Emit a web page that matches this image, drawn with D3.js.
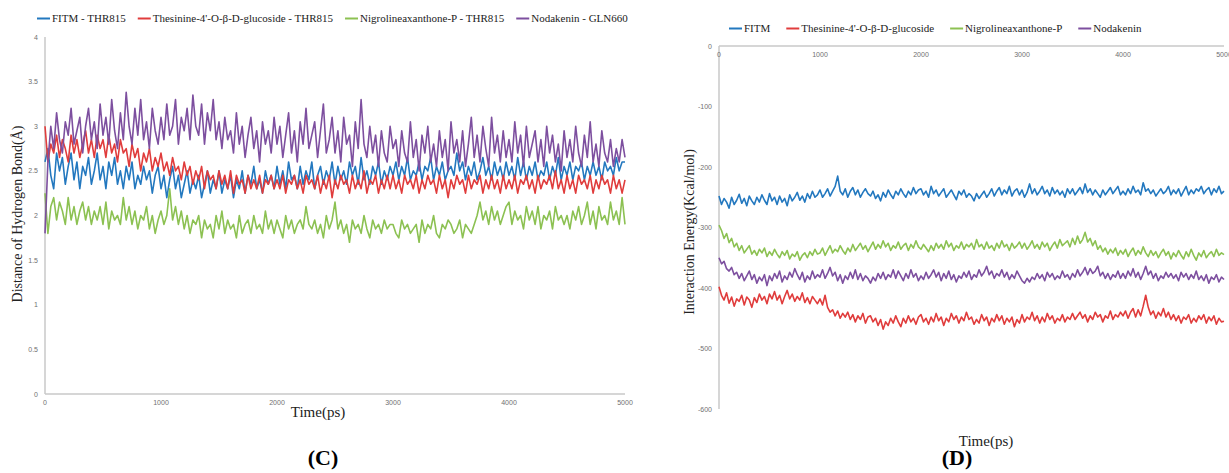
<!DOCTYPE html>
<html>
<head>
<meta charset="utf-8">
<script src="https://cdn.jsdelivr.net/npm/d3@7"></script>
<style>
  body { margin: 0; background: #fff; }
</style>
</head>
<body>
<svg id="chart"></svg>
<script>
const width = 1229, height = 473;
const SERIF = '"Liberation Serif", "Times New Roman", serif';
const SANS = '"Liberation Sans", Arial, sans-serif';

// time axis (ps), one sample every 25 ps
const times = d3.range(0, 5001, 25);

// (C) hydrogen bond distance, Å
const hbFITM = [2.6,2.75,2.45,2.3,2.7,2.5,2.65,2.35,2.55,2.7,2.4,2.6,2.3,2.55,2.45,2.65,2.35,2.5,2.7,2.4,
  2.55,2.3,2.6,2.45,2.65,2.35,2.5,2.3,2.55,2.4,2.6,2.3,2.45,2.35,2.55,2.4,2.5,2.25,2.45,2.55,
  2.3,2.45,2.2,2.4,2.55,2.3,2.45,2.2,2.35,2.5,2.25,2.4,2.3,2.45,2.2,2.35,2.5,2.25,2.4,2.3,
  2.5,2.25,2.4,2.3,2.45,2.2,2.4,2.3,2.5,2.25,2.45,2.35,2.55,2.3,2.4,2.25,2.5,2.35,2.45,2.3,
  2.55,2.35,2.5,2.3,2.6,2.4,2.45,2.3,2.55,2.35,2.5,2.4,2.6,2.3,2.45,2.55,2.35,2.5,2.4,2.6,
  2.35,2.55,2.4,2.5,2.35,2.6,2.45,2.55,2.35,2.65,2.4,2.5,2.35,2.55,2.45,2.6,2.35,2.5,2.4,2.55,
  2.45,2.6,2.4,2.55,2.45,2.65,2.4,2.5,2.45,2.6,2.4,2.55,2.5,2.65,2.4,2.55,2.45,2.6,2.4,2.5,
  2.55,2.45,2.7,2.5,2.6,2.4,2.55,2.45,2.6,2.4,2.5,2.65,2.45,2.55,2.4,2.6,2.45,2.55,2.4,2.6,
  2.45,2.55,2.4,2.65,2.45,2.6,2.4,2.55,2.45,2.6,2.4,2.5,2.45,2.6,2.4,2.55,2.45,2.65,2.4,2.55,
  2.45,2.6,2.4,2.55,2.5,2.6,2.4,2.55,2.45,2.6,2.45,2.55,2.4,2.6,2.5,2.55,2.45,2.65,2.5,2.6,
  2.6];
const hbThes = [3.0,2.6,2.8,2.7,2.9,2.65,2.85,2.75,2.6,2.9,2.7,2.85,2.65,2.8,2.95,2.7,2.85,2.65,2.9,2.75,
  2.85,2.65,2.9,2.7,2.8,2.6,2.85,2.7,2.75,2.55,2.8,2.65,2.75,2.5,2.7,2.6,2.75,2.5,2.65,2.55,
  2.7,2.5,2.6,2.45,2.65,2.5,2.55,2.4,2.6,2.45,2.55,2.35,2.5,2.4,2.55,2.3,2.5,2.4,2.45,2.3,
  2.5,2.35,2.45,2.3,2.5,2.25,2.45,2.35,2.4,2.25,2.45,2.3,2.4,2.3,2.45,2.25,2.4,2.35,2.45,2.3,
  2.4,2.3,2.45,2.25,2.4,2.35,2.45,2.3,2.4,2.25,2.45,2.35,2.4,2.3,2.45,2.25,2.4,2.3,2.45,2.2,
  2.4,2.3,2.45,2.35,2.4,2.25,2.45,2.3,2.4,2.3,2.5,2.25,2.4,2.35,2.45,2.25,2.4,2.3,2.45,2.3,
  2.45,2.3,2.4,2.25,2.45,2.35,2.4,2.3,2.45,2.25,2.4,2.3,2.45,2.35,2.4,2.25,2.45,2.3,2.4,2.2,
  2.4,2.3,2.45,2.35,2.4,2.25,2.45,2.3,2.4,2.35,2.45,2.25,2.4,2.3,2.45,2.3,2.4,2.25,2.45,2.3,
  2.4,2.3,2.45,2.25,2.4,2.35,2.45,2.3,2.4,2.25,2.45,2.3,2.4,2.35,2.45,2.3,2.5,2.3,2.4,2.25,
  2.45,2.3,2.4,2.25,2.45,2.35,2.4,2.3,2.45,2.25,2.4,2.3,2.45,2.35,2.4,2.25,2.45,2.3,2.4,2.25,
  2.4];
const hbNigro = [2.25,1.8,2.1,2.2,1.95,2.15,2.05,1.9,2.2,1.95,2.1,1.9,2.05,2.15,1.95,2.1,1.9,2.05,1.95,2.1,
  1.9,2.15,1.85,2.05,1.95,2.0,1.9,2.2,1.95,2.1,1.9,2.05,1.85,2.0,1.95,2.1,1.85,2.0,1.8,1.95,
  2.05,1.9,2.0,2.3,1.95,2.1,1.9,2.05,1.85,2.0,1.8,1.95,1.9,2.0,1.75,1.95,1.85,1.9,1.75,2.0,
  1.85,2.05,1.8,1.95,1.85,1.9,1.75,2.0,1.8,1.9,1.95,1.8,2.0,1.85,1.9,1.8,2.05,1.85,1.95,1.8,
  1.95,1.85,1.75,2.0,1.85,1.95,1.8,1.9,1.95,1.85,2.1,1.9,1.85,1.95,1.8,1.9,1.75,2.0,1.85,1.95,
  2.15,1.85,1.95,1.8,1.9,1.7,1.95,1.85,1.9,1.8,2.0,1.85,1.75,1.95,1.85,1.9,1.8,1.95,1.85,1.9,
  1.9,1.8,1.75,1.95,1.85,1.9,1.8,1.85,1.9,1.7,1.95,1.8,1.9,1.85,2.0,1.8,1.75,1.9,1.85,1.95,
  1.9,1.8,1.85,1.95,1.75,1.9,1.85,1.8,1.9,2.0,2.15,1.95,2.05,1.9,2.1,1.95,2.05,1.9,2.0,2.1,
  2.15,1.9,2.05,1.95,2.0,1.85,2.1,1.95,2.05,1.9,2.1,1.85,2.0,1.95,2.05,1.85,2.1,1.95,2.0,1.9,
  2.0,1.85,2.05,1.95,2.1,1.9,2.0,2.15,1.9,2.05,1.85,2.1,1.95,2.0,1.9,2.15,1.95,2.05,1.9,2.2,
  1.9];
const hbNoda = [1.8,2.6,3.0,2.75,3.15,2.85,2.7,3.05,2.9,3.2,2.8,2.95,3.1,2.7,3.0,3.2,2.85,3.05,2.75,3.25,
  2.9,3.1,2.8,3.3,2.95,2.75,3.15,2.85,3.38,3.0,2.8,3.2,2.9,3.3,2.85,3.05,2.75,3.2,2.95,2.8,
  3.1,2.85,3.25,2.9,3.0,3.3,2.8,3.1,2.95,3.2,2.85,3.35,3.0,2.9,3.25,2.8,3.15,2.95,3.3,2.85,
  3.05,2.75,3.1,2.85,2.95,2.7,3.15,2.8,3.0,2.65,2.9,3.1,2.75,2.95,2.6,3.05,2.8,2.95,2.7,3.1,
  2.8,3.0,2.65,2.9,3.15,2.7,2.95,2.6,3.05,2.8,3.2,2.75,2.9,3.05,2.65,2.95,3.25,2.7,2.85,3.1,
  2.7,2.95,2.6,3.1,2.8,2.9,2.55,3.05,2.75,3.3,2.8,2.65,3.0,2.7,2.9,2.55,2.95,2.7,2.6,3.0,
  2.75,2.85,2.55,2.95,2.7,2.6,3.05,2.65,2.85,2.5,2.9,2.7,3.0,2.6,2.8,2.55,2.95,2.65,2.85,2.5,
  3.05,2.7,2.85,2.6,2.95,2.55,2.8,3.1,2.65,2.9,2.6,3.0,2.75,2.55,3.1,2.7,2.9,2.6,2.95,2.65,
  2.85,2.6,3.05,2.7,2.9,2.55,3.0,2.65,2.8,2.95,2.6,2.85,2.55,3.0,2.7,2.9,2.6,2.8,2.5,2.95,
  2.65,2.85,2.6,3.0,2.7,2.55,2.9,2.65,3.05,2.6,2.8,2.55,2.95,2.7,2.6,2.85,2.55,2.75,2.6,2.85,
  2.65];

// (D) interaction energy, Kcal/mol
const ieFITM = [-248,-262,-252,-258,-268,-250,-262,-255,-245,-260,-252,-264,-248,-256,-262,-250,-258,-246,-255,-262,
  -244,-256,-250,-262,-248,-258,-252,-264,-246,-256,-250,-242,-255,-248,-258,-244,-252,-240,-250,-246,
  -238,-250,-244,-236,-248,-240,-232,-215,-240,-246,-236,-250,-240,-234,-246,-238,-250,-242,-236,-244,
  -248,-240,-252,-246,-256,-242,-250,-238,-246,-252,-240,-246,-236,-244,-250,-240,-246,-234,-244,-238,
  -236,-246,-240,-250,-232,-244,-238,-248,-242,-236,-250,-244,-238,-246,-254,-240,-246,-238,-250,-244,
  -248,-256,-244,-252,-246,-240,-250,-244,-236,-248,-240,-234,-246,-238,-244,-232,-248,-240,-236,-246,
  -238,-250,-242,-228,-244,-236,-246,-240,-232,-244,-238,-248,-234,-244,-238,-246,-240,-250,-236,-244,
  -236,-246,-240,-234,-244,-228,-242,-236,-246,-238,-244,-250,-238,-246,-240,-234,-244,-238,-232,-246,
  -240,-246,-236,-244,-232,-242,-238,-246,-226,-240,-236,-244,-238,-248,-242,-236,-244,-240,-232,-246,
  -238,-244,-236,-248,-240,-232,-246,-238,-244,-236,-240,-232,-244,-238,-234,-246,-236,-242,-232,-244,
  -240];
const ieThes = [-398,-412,-420,-408,-425,-415,-430,-418,-422,-412,-428,-415,-420,-432,-416,-424,-410,-420,-414,-426,
  -410,-418,-406,-420,-412,-426,-414,-404,-418,-410,-422,-414,-420,-408,-424,-416,-426,-414,-420,-426,
  -418,-428,-412,-432,-440,-436,-446,-438,-450,-442,-448,-440,-452,-444,-456,-446,-452,-442,-458,-448,
  -446,-456,-450,-462,-452,-468,-456,-462,-450,-458,-446,-456,-464,-450,-458,-446,-456,-450,-460,-448,
  -444,-456,-450,-460,-448,-456,-442,-454,-448,-462,-450,-456,-442,-452,-446,-458,-448,-454,-440,-452,
  -448,-460,-452,-458,-444,-454,-448,-462,-450,-456,-444,-454,-446,-460,-450,-456,-448,-464,-452,-458,
  -444,-456,-448,-452,-440,-454,-446,-458,-448,-456,-442,-452,-446,-458,-450,-454,-444,-456,-448,-452,
  -442,-452,-446,-440,-450,-444,-456,-446,-452,-440,-448,-444,-456,-446,-450,-438,-452,-444,-448,-440,
  -446,-438,-450,-440,-434,-448,-436,-446,-430,-412,-432,-444,-438,-450,-440,-446,-434,-448,-440,-452,
  -444,-454,-446,-458,-448,-452,-444,-458,-450,-456,-446,-452,-444,-458,-448,-454,-446,-460,-450,-456,
  -455];
const ieNigro = [-296,-305,-318,-310,-325,-318,-332,-326,-338,-330,-342,-336,-330,-344,-338,-346,-336,-342,-334,-348,
  -340,-346,-336,-344,-350,-340,-346,-338,-352,-344,-348,-340,-354,-346,-342,-350,-340,-346,-336,-344,
  -342,-334,-346,-338,-330,-342,-336,-340,-330,-338,-344,-334,-340,-328,-338,-332,-326,-336,-330,-340,
  -332,-324,-336,-328,-334,-322,-332,-326,-338,-330,-334,-324,-336,-330,-326,-338,-328,-334,-322,-332,
  -336,-328,-334,-340,-330,-338,-326,-334,-328,-336,-322,-332,-326,-338,-330,-334,-324,-336,-328,-332,
  -326,-336,-320,-332,-328,-336,-324,-334,-330,-338,-326,-334,-322,-332,-328,-338,-326,-334,-330,-324,
  -334,-326,-336,-330,-322,-334,-328,-336,-324,-332,-326,-338,-330,-324,-334,-320,-330,-326,-322,-332,
  -318,-328,-314,-326,-320,-308,-324,-318,-330,-322,-336,-330,-340,-334,-344,-336,-342,-334,-346,-338,
  -344,-336,-348,-340,-334,-346,-338,-344,-332,-342,-348,-338,-346,-340,-350,-342,-336,-346,-340,-352,
  -342,-348,-338,-346,-352,-340,-348,-336,-346,-354,-342,-348,-338,-350,-344,-340,-348,-336,-346,-342,
  -345];
const ieNoda = [-350,-360,-356,-368,-372,-366,-378,-374,-384,-376,-388,-380,-372,-386,-378,-392,-382,-388,-378,-396,
  -380,-388,-376,-384,-372,-390,-380,-386,-374,-382,-368,-378,-386,-374,-390,-380,-386,-372,-384,-378,
  -382,-370,-384,-376,-366,-380,-374,-388,-378,-392,-380,-386,-374,-384,-370,-386,-376,-388,-380,-384,
  -392,-382,-388,-376,-384,-374,-386,-378,-382,-370,-384,-372,-380,-388,-376,-384,-370,-382,-376,-388,
  -380,-386,-374,-384,-378,-370,-382,-374,-388,-376,-384,-372,-386,-378,-390,-380,-384,-374,-382,-372,
  -386,-378,-382,-370,-380,-374,-364,-378,-372,-384,-376,-380,-370,-382,-374,-386,-378,-384,-372,-380,
  -388,-392,-384,-390,-382,-386,-376,-384,-378,-388,-374,-382,-376,-386,-380,-384,-372,-382,-378,-386,
  -376,-382,-370,-380,-374,-366,-378,-368,-376,-372,-364,-380,-374,-384,-376,-386,-378,-382,-372,-384,
  -376,-384,-372,-380,-368,-382,-374,-386,-376,-364,-378,-372,-384,-376,-388,-380,-384,-374,-382,-376,
  -384,-378,-388,-374,-382,-376,-386,-378,-384,-372,-386,-380,-388,-378,-392,-382,-386,-378,-390,-382,
  -386];

const colors = ["#2378bf", "#e03c3c", "#8cc152", "#7d4f9f"];

const svg = d3.select("#chart").attr("width", width).attr("height", height);

function drawPanel(p) {
  const x = d3.scaleLinear().domain([0, 5000]).range(p.xRange);
  const y = d3.scaleLinear().domain(p.yDomain).range(p.yRange);
  const g = svg.append("g");

  // axis lines
  g.append("line").attr("x1", x(0)).attr("x2", x(0)).attr("y1", y.range()[0]).attr("y2", y.range()[1])
    .attr("stroke", "#c8c8c8").attr("stroke-width", 1.5);
  g.append("line").attr("x1", x.range()[0]).attr("x2", x.range()[1]).attr("y1", y(p.xAxisAt)).attr("y2", y(p.xAxisAt))
    .attr("stroke", "#c8c8c8").attr("stroke-width", 1.5);

  g.selectAll(".ytl").data(p.yTicks).join("text").attr("class", "ytl")
    .attr("font-family", SANS).attr("font-size", 7).attr("fill", "#707070")
    .attr("x", x(0) - 7).attr("y", d => y(d) + 2.5).attr("text-anchor", "end").text(d => d);
  g.selectAll(".xtl").data(d3.range(0, 5001, 1000)).join("text").attr("class", "xtl")
    .attr("font-family", SANS).attr("font-size", 7).attr("fill", "#707070")
    .attr("x", d => x(d)).attr("y", y(p.xAxisAt) + p.xLabelOffset).attr("text-anchor", "middle").text(d => d);

  const line = d3.line().x((d, i) => x(times[i])).y(d => y(d));
  p.series.forEach((s, i) => {
    g.append("path").datum(s).attr("d", line).attr("fill", "none")
      .attr("stroke", colors[i]).attr("stroke-width", 1.6).attr("stroke-linejoin", "round");
  });

  // legend
  let lx = p.legendX;
  p.names.forEach((n, i) => {
    g.append("line").attr("x1", lx).attr("x2", lx + 13).attr("y1", p.legendY - 3.5).attr("y2", p.legendY - 3.5)
      .attr("stroke", colors[i]).attr("stroke-width", 2);
    const t = g.append("text").attr("font-family", SERIF).attr("fill", "#222").attr("x", lx + 15).attr("y", p.legendY)
      .attr("font-size", 11).text(n);
    lx += 15 + t.node().getComputedTextLength() + p.legendGap;
  });

  g.append("text").attr("font-family", SERIF).attr("fill", "#222").attr("font-size", 14).attr("text-anchor", "middle")
    .attr("transform", `translate(${p.yTitleX},${p.yTitleY}) rotate(-90)`).text(p.yTitle);
  g.append("text").attr("font-family", SERIF).attr("fill", "#222").attr("font-size", 15).attr("text-anchor", "middle")
    .attr("x", p.xTitleX).attr("y", p.xTitleY).text("Time(ps)");
  g.append("text").attr("font-family", SERIF).attr("fill", "#000").attr("font-size", 22).attr("font-weight", "bold")
    .attr("text-anchor", "middle").attr("x", p.tagX).attr("y", 465).text(p.tag);
}

drawPanel({
  xRange: [45, 625], yDomain: [0, 4], yRange: [394, 37], xAxisAt: 0, xLabelOffset: 11,
  yTicks: [0, 0.5, 1, 1.5, 2, 2.5, 3, 3.5, 4],
  series: [hbFITM, hbThes, hbNigro, hbNoda],
  names: ["FITM - THR815", "Thesinine-4'-O-\u03b2-D-glucoside - THR815", "Nigrolineaxanthone-P - THR815", "Nodakenin - GLN660"],
  legendX: 37, legendY: 22, legendGap: 12,
  yTitle: "Distance of Hydrogen Bond(\u00c5)", yTitleX: 22, yTitleY: 214,
  xTitleX: 318, xTitleY: 417, tag: "(C)", tagX: 323
});

drawPanel({
  xRange: [719, 1224], yDomain: [-600, 0], yRange: [409, 46], xAxisAt: 0, xLabelOffset: 11,
  yTicks: [0, -100, -200, -300, -400, -500, -600],
  series: [ieFITM, ieThes, ieNigro, ieNoda],
  names: ["FITM", "Thesinine-4'-O-\u03b2-D-glucoside", "Nigrolineaxanthone-P", "Nodakenin"],
  legendX: 729, legendY: 32, legendGap: 16,
  yTitle: "Interaction Energy(Kcal/mol)", yTitleX: 694, yTitleY: 232,
  xTitleX: 986, xTitleY: 446, tag: "(D)", tagX: 957
});
</script>
</body>
</html>
